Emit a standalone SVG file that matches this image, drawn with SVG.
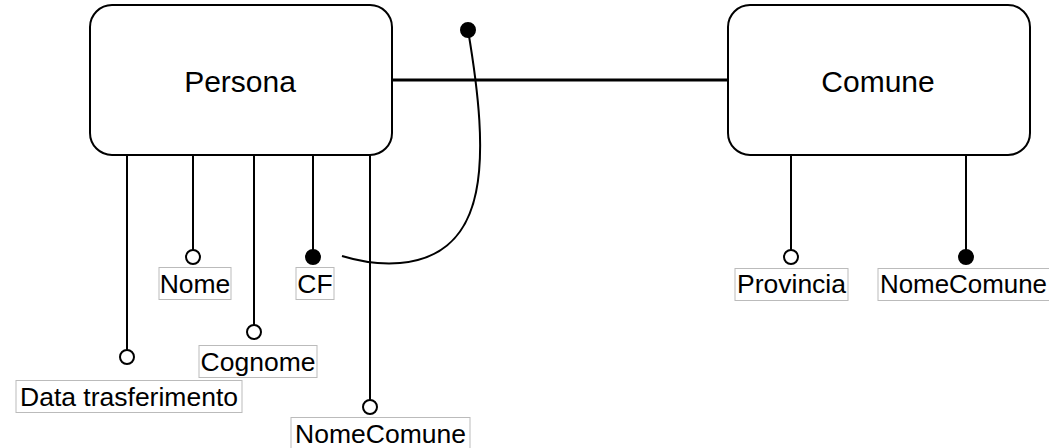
<svg xmlns="http://www.w3.org/2000/svg" width="1049" height="448" viewBox="0 0 1049 448">
<style>
.node{fill:#fff;stroke:#000;stroke-width:2}
.ntxt{font-family:"Liberation Sans",Arial,sans-serif;font-size:30px;fill:#000;text-anchor:middle}
.ltxt{font-family:"Liberation Sans",Arial,sans-serif;font-size:26.5px;fill:#000;text-anchor:middle}
.lbox{fill:#fff;stroke:#bbb;stroke-width:1}
.att{stroke:#000;stroke-width:2;fill:none}
.open{fill:#fff;stroke:#000;stroke-width:2}
.full{fill:#000;stroke:#000;stroke-width:2}
</style>
<rect width="1049" height="448" fill="#fff"/>
<g id="connectors">
<line x1="392" y1="80" x2="728" y2="80" stroke="#000" stroke-width="3"/>
<path class="att" d="M468 30 C490 160 490 255 400 263 C375 265 355 260 342 256"/>
<circle class="full" cx="468" cy="30" r="7"/>
<line class="att" x1="127" y1="155" x2="127" y2="350"/>
<line class="att" x1="193" y1="155" x2="193" y2="250"/>
<line class="att" x1="254" y1="155" x2="254" y2="325"/>
<line class="att" x1="313" y1="155" x2="313" y2="250"/>
<line class="att" x1="370" y1="155" x2="370" y2="400"/>
<line class="att" x1="791" y1="155" x2="791" y2="250"/>
<line class="att" x1="966" y1="155" x2="966" y2="250"/>
</g>
<g id="persona">
<rect class="node" x="90" y="5" width="302" height="150" rx="22"/>
<text class="ntxt" x="240" y="92">Persona</text>
</g>
<g id="comune">
<rect class="node" x="728" y="5" width="302" height="150" rx="22"/>
<text class="ntxt" x="878" y="92">Comune</text>
</g>
<g id="attr-nome">
<circle class="open" cx="193" cy="257" r="7"/>
<rect class="lbox" x="159" y="267.5" width="72" height="32"/>
<text class="ltxt" x="195" y="293">Nome</text>
</g>
<g id="attr-cf">
<circle class="full" cx="313" cy="257" r="7"/>
<rect class="lbox" x="296" y="267.5" width="38" height="32"/>
<text class="ltxt" x="315" y="293">CF</text>
</g>
<g id="attr-cognome">
<circle class="open" cx="254" cy="332" r="7"/>
<rect class="lbox" x="199" y="345.5" width="118" height="32"/>
<text class="ltxt" x="258" y="371">Cognome</text>
</g>
<g id="attr-data">
<circle class="open" cx="127" cy="357" r="7"/>
<rect class="lbox" x="16" y="380.5" width="226" height="32"/>
<text class="ltxt" x="129" y="406">Data trasferimento</text>
</g>
<g id="attr-nomecomune-persona">
<circle class="open" cx="370" cy="407" r="7"/>
<rect class="lbox" x="291" y="417.5" width="179" height="32"/>
<text class="ltxt" x="380.5" y="443">NomeComune</text>
</g>
<g id="attr-provincia">
<circle class="open" cx="791" cy="257" r="7"/>
<rect class="lbox" x="735" y="268.5" width="113" height="32"/>
<text class="ltxt" x="791.5" y="293">Provincia</text>
</g>
<g id="attr-nomecomune-comune">
<circle class="full" cx="966" cy="257" r="7"/>
<rect class="lbox" x="878" y="268.5" width="179" height="32"/>
<text class="ltxt" x="880" y="293" style="text-anchor:start" textLength="167" lengthAdjust="spacingAndGlyphs">NomeComune</text>
</g>
</svg>
